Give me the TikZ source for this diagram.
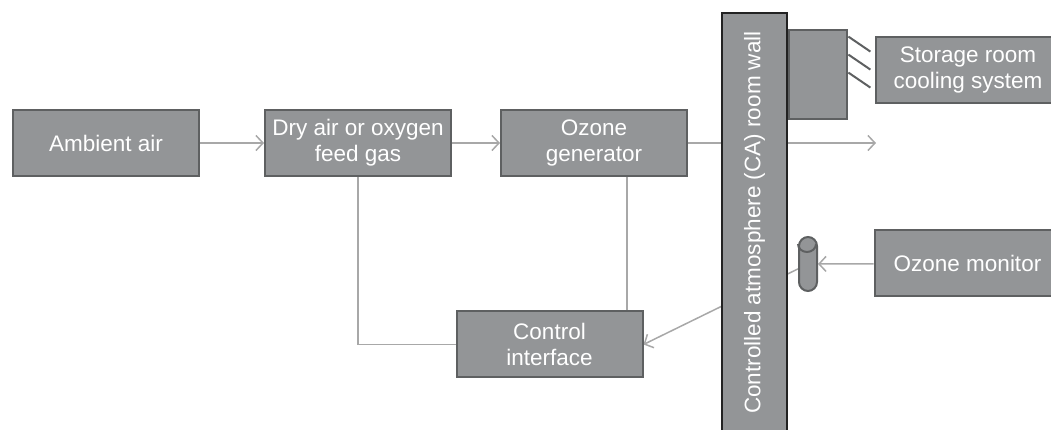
\documentclass[tikz,border=0pt]{standalone}
\usepackage{fontspec}
\setmainfont{Liberation Sans}
\usetikzlibrary{positioning,arrows.meta}
\pgfdeclarelayer{background}
\pgfsetlayers{background,main}
\definecolor{boxgray}{HTML}{939597}
\definecolor{edgegray}{HTML}{5E6061}
\definecolor{linegray}{HTML}{A8A8A8}
\definecolor{wallline}{HTML}{222222}

\begin{document}
\begin{tikzpicture}[x=0.5pt, y=0.5pt,
  unit/.style={rectangle, draw=edgegray, line width=1pt, fill=boxgray, text=white, font=\fontsize{11.25}{13}\selectfont, align=center, minimum width=93pt, minimum height=33pt, inner sep=0pt},
  wallbox/.style={rectangle, draw=wallline, line width=1.4pt, fill=boxgray, minimum width=32.5pt, minimum height=209.5pt, inner sep=0pt},
  coolbox/.style={rectangle, draw=edgegray, line width=1pt, fill=boxgray, minimum width=29pt, minimum height=44.5pt, inner sep=0pt},
  sensorbox/.style={rectangle, draw=edgegray, line width=1pt, fill=boxgray, rounded corners=4.5pt, minimum width=9pt, minimum height=27pt, inner sep=0pt},
  flow/.style={draw=linegray, line width=0.75pt},
  feed/.style={flow, -{Straight Barb[length=3.5pt,width=7.5pt]}}]
\useasboundingbox (0,0) rectangle (1051,429);
\node[unit] (ambient) at (106,286) {Ambient air};
\node[unit, right = 32pt of ambient] (dry) {Dry air or oxygen\\feed gas};
\node[unit, right = 24pt of dry] (ozgen) {Ozone\\generator};
\node[unit] (control) at (549.5,84.5) {Control\\interface};
\node[wallbox] (wall) at (754.5,206.5) {};
\node[rotate=90, text=white, font=\fontsize{11.25}{13}\selectfont] at (wall.center) {Controlled atmosphere (CA) room wall};
\node[coolbox, below right = 8.5pt and 0pt of wall.north east] (cooler) {};
\node[unit, minimum width=92pt] (storage) at (968,359) {Storage room\\cooling system};
\node[unit] (monitor) at (967.5,165.5) {Ozone monitor};
\node[sensorbox] (sensor) at (808,165) {};
\draw[edgegray, line width=1pt] ([yshift=-4pt]sensor.north west) arc[start angle=180, end angle=360, x radius=4.5pt, y radius=4pt];
\coordinate (outlet) at (876,286);
\coordinate (tap) at (627,0);

\foreach \dy in {4,13,22}
  \draw[edgegray, line width=1pt] ([yshift=-\dy pt]cooler.north east) -- ++(11pt,-7.5pt);

\begin{pgfonlayer}{background}
\draw[feed] (ambient) -- (dry);
\draw[feed] (dry) -- (ozgen);
\draw[feed] (ozgen) -- (outlet);
\draw[flow] (ozgen.south -| tap) -- (control.north -| tap);
\draw[flow] (dry) |- (control);
\draw[feed] (monitor) -- (sensor);
\draw[feed] (sensor) -- (control.east);
\end{pgfonlayer}
\end{tikzpicture}
\end{document}
